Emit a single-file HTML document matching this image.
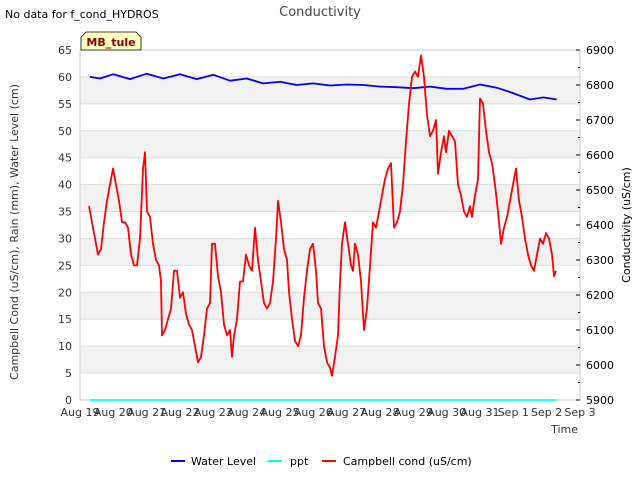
<!DOCTYPE html>
<html><head><meta charset="utf-8"><style>
body{margin:0;background:#fff;font-family:"Liberation Sans","DejaVu Sans",sans-serif}
svg text{font-family:"DejaVu Sans","Liberation Sans",sans-serif}
</style></head><body>
<svg id="c" width="640" height="480" xmlns="http://www.w3.org/2000/svg">
<text x="5" y="18" font-size="11" fill="#000">No data for f_cond_HYDROS</text>
<text x="320" y="16" font-size="13" fill="#444" text-anchor="middle">Conductivity</text>
<g id="bands"></g>
<rect x="80" y="50" width="500" height="350" fill="none" stroke="#ccc"/>
<g id="axes"></g>
<g id="series"></g>
<g>
<path d="M81,50 L81,37 L86,32 L136,32 L141,37 L141,50 Z" fill="#ffffc0" stroke="#000" stroke-width="0.8"/>
<text x="111" y="46" font-size="11" font-weight="bold" fill="#8b0000" text-anchor="middle">MB_tule</text>
</g>
<text x="18" y="232" font-size="11" fill="#333" text-anchor="middle" transform="rotate(-90 18 232)">Campbell Cond (uS/cm), Rain (mm), Water Level (cm)</text>
<text x="630" y="225" font-size="11" fill="#000" text-anchor="middle" transform="rotate(-90 630 225)">Conductivity (uS/cm)</text>
<text x="578" y="433" font-size="11" fill="#333" text-anchor="end">Time</text>
<g>
<g><line x1="171" y1="461" x2="185" y2="461" stroke="#00f" stroke-width="2"/><text x="191" y="465" font-size="11">Water Level</text></g>
<g><line x1="268" y1="461" x2="282" y2="461" stroke="#0ff" stroke-width="2"/><text x="290" y="465" font-size="11">ppt</text></g>
<g><line x1="322" y1="461" x2="336" y2="461" stroke="#f00" stroke-width="2"/><text x="343" y="465" font-size="11">Campbell cond (uS/cm)</text></g>
</g>
</svg>
<script>
const xTickLabels=["Aug 19","Aug 20","Aug 21","Aug 22","Aug 23","Aug 24","Aug 25","Aug 26","Aug 27","Aug 28","Aug 29","Aug 30","Aug 31","Sep 1","Sep 2","Sep 3"];
const leftTicks=[0,5,10,15,20,25,30,35,40,45,50,55,60,65];
const rightTicks=[5900,6000,6100,6200,6300,6400,6500,6600,6700,6800,6900];
const wlDays=[0.3,0.6,1,1.5,2,2.5,3,3.5,4,4.5,5,5.5,6,6.5,7,7.5,8,8.5,9,9.5,10,10.5,11,11.5,12,12.5,12.9,13.5,13.9,14.3];
const wlVals=[60,59.7,60.5,59.6,60.6,59.7,60.5,59.6,60.4,59.3,59.7,58.8,59.1,58.5,58.8,58.4,58.6,58.5,58.2,58.1,57.9,58.2,57.8,57.8,58.6,58,57.2,55.8,56.2,55.8];
const pptDays=[0.3,14.3];
const pptVals=[0,0];
const ccDays=[0.27,0.36,0.45,0.54,0.63,0.72,0.81,0.9,0.99,1.08,1.17,1.26,1.35,1.44,1.53,1.62,1.71,1.8,1.89,1.95,2.01,2.1,2.19,2.28,2.37,2.43,2.46,2.55,2.64,2.73,2.82,2.91,3.0,3.09,3.18,3.27,3.36,3.45,3.54,3.63,3.72,3.81,3.9,3.96,4.05,4.14,4.23,4.32,4.41,4.5,4.56,4.62,4.71,4.8,4.89,4.98,5.07,5.16,5.25,5.34,5.43,5.52,5.61,5.7,5.79,5.88,5.94,6.03,6.12,6.21,6.27,6.36,6.45,6.54,6.63,6.72,6.81,6.9,6.99,7.08,7.14,7.23,7.32,7.41,7.5,7.56,7.65,7.74,7.8,7.86,7.95,8.04,8.13,8.19,8.25,8.34,8.43,8.52,8.61,8.7,8.79,8.88,8.97,9.06,9.15,9.24,9.33,9.42,9.51,9.6,9.69,9.78,9.87,9.96,10.05,10.14,10.23,10.32,10.41,10.5,10.59,10.68,10.74,10.83,10.92,10.98,11.07,11.16,11.25,11.34,11.43,11.52,11.61,11.7,11.76,11.85,11.94,12.0,12.09,12.18,12.27,12.36,12.45,12.54,12.63,12.72,12.81,12.9,12.99,13.08,13.17,13.26,13.35,13.44,13.53,13.62,13.71,13.8,13.89,13.98,14.07,14.16,14.22,14.28];
const ccVals=[36,33,30,27,28,33,37,40,43,40,37,33,33,32,27,25,25,30,43,46,35,34,29,26,25,22,12,13,15,17,24,24,19,20,16,14,13,10,7,8,12,17,18,29,29,23,20,14,12,13,8,12,15,22,22,27,25,24,32,26,22,18,17,18,22,30,37,33,28,26,20,15,11,10,12,19,24,28,29,24,18,17,10,7,6,4.5,8,12,22,29,33,29,25,24,29,27,22,13,17,25,33,32,35,38,41,43,44,32,33,35,40,48,55,60,61,60,64,60,53,49,50,52,42,46,49,46,50,49,48,40,38,35,34,36,34,38,41,56,55,50,46,44,40,35,29,32,34,37,40,43,37,34,30,27,25,24,27,30,29,31,30,27,23,24];

const NS="http://www.w3.org/2000/svg";
const X0=80,X1=580,Y0=400,Y1=50;
const xS=d=>X0+d*(X1-X0)/15;
const yL=v=>Y0-v*(Y0-Y1)/65;
const yR=v=>Y0-(v-5900)*(Y0-Y1)/1000;
function mk(tag,attrs,parent){const e=document.createElementNS(NS,tag);for(const k in attrs)e.setAttribute(k,attrs[k]);parent.appendChild(e);return e;}
const bands=document.getElementById('bands'),axes=document.getElementById('axes'),ser=document.getElementById('series');
for(let v=5;v<60;v+=10){const r=mk('rect',{x:X0,y:yL(v+5),width:X1-X0,height:yL(v)-yL(v+5),fill:'#f2f2f2'},bands);

}
leftTicks.forEach(v=>{const l=mk('line',{x1:X0,x2:X1,y1:yL(v),y2:yL(v),stroke:'#ddd'},bands);


const t=mk('text',{x:72,y:yL(v)+4,'font-size':11,fill:'#333','text-anchor':'end'},axes);t.textContent=v;

});
rightTicks.forEach((v,i)=>{mk('line',{x1:X1-4,x2:X1,y1:yR(v),y2:yR(v),stroke:'#000'},axes);
if(i<rightTicks.length-1)mk('line',{x1:X1-2,x2:X1,y1:yR(v+50),y2:yR(v+50),stroke:'#000'},axes);
const t=mk('text',{x:586,y:yR(v)+4,'font-size':11,fill:'#000'},axes);t.textContent=v;

});
xTickLabels.forEach((s,i)=>{const t=mk('text',{x:xS(i),y:416,'font-size':11,fill:'#333','text-anchor':'middle'},axes);t.textContent=s;

});
function line(days,vals,color,name){const p=days.map((d,i)=>xS(d).toFixed(1)+','+yL(vals[i]).toFixed(1)).join(' ');
const e=mk('polyline',{points:p,fill:'none',stroke:color,'stroke-width':1.8,'stroke-linejoin':'round'},ser);

}
line(pptDays,pptVals,'#0ff','ppt-line');
line(wlDays,wlVals,'#00f','water-level-line');
line(ccDays,ccVals,'#f00','campbell-cond-line');
</script>
</body></html>
